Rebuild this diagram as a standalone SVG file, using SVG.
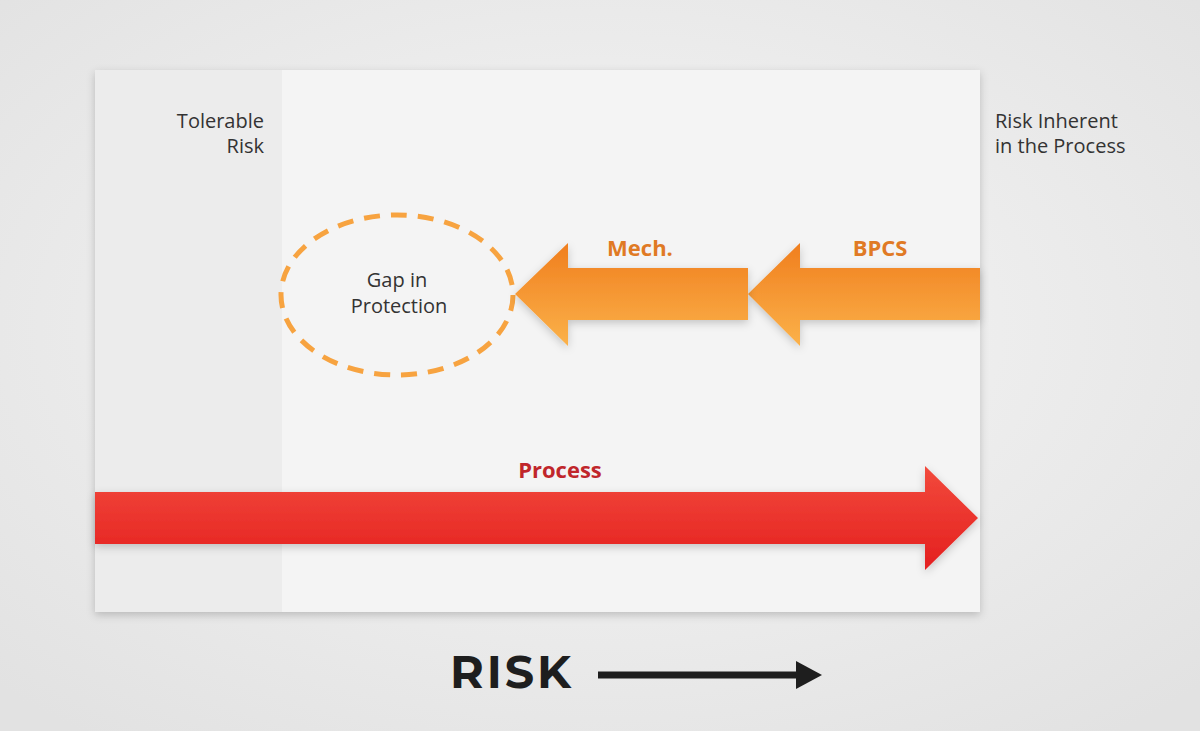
<svg xmlns="http://www.w3.org/2000/svg" width="1200" height="731" viewBox="0 0 1200 731">
<defs>
<radialGradient id="bg" cx="0.5" cy="0.45" r="0.7"><stop offset="0" stop-color="#f7f7f7"/><stop offset="1" stop-color="#e2e2e2"/></radialGradient>
<linearGradient id="og" x1="0" y1="0" x2="0" y2="1"><stop offset="0" stop-color="#f07e1e"/><stop offset="1" stop-color="#fbb24a"/></linearGradient>
<linearGradient id="rg" x1="0" y1="0" x2="0" y2="1"><stop offset="0" stop-color="#f24a3c"/><stop offset="1" stop-color="#e41f1f"/></linearGradient>
<filter id="sh" x="-10%" y="-20%" width="120%" height="140%"><feDropShadow dx="0" dy="3" stdDeviation="4" flood-opacity="0.2"/></filter>
<marker id="ah" viewBox="0 0 10 10" refX="9" refY="5" markerWidth="3" markerHeight="4" orient="auto" markerUnits="strokeWidth" preserveAspectRatio="none"><path d="M0,0 L10,5 L0,10 z" fill="#1e1e1e"/></marker>
</defs>
<style>
.t{font-family:"Open Sans","Liberation Sans",sans-serif;font-size:20px;fill:#333}
.b{font-family:"Open Sans","Liberation Sans",sans-serif;font-size:22px;font-weight:bold}
</style>
<rect width="1200" height="731" fill="url(#bg)"/>
<rect x="95" y="70" width="885" height="542" fill="#f4f4f4" filter="url(#sh)"/>
<rect x="95" y="70" width="187" height="542" fill="#ececec"/>
<g id="tolerable"><text class="t" x="264" y="128" text-anchor="end">Tolerable</text><text class="t" x="264" y="153" text-anchor="end">Risk</text></g>
<g id="inherent"><text class="t" x="995" y="128">Risk Inherent</text><text class="t" x="995" y="153">in the Process</text></g>
<g id="gap"><ellipse cx="397" cy="295" rx="116" ry="80" fill="none" stroke="#f7a340" stroke-width="5" stroke-dasharray="16 11"/>
<text class="t" x="397" y="287" text-anchor="middle">Gap in</text><text class="t" x="399" y="313" text-anchor="middle">Protection</text></g>
<g id="connectors">
<g id="bpcs"><path d="M980,268 L800,268 L800,243 L748,294 L800,346 L800,320 L980,320 Z" fill="url(#og)" filter="url(#sh)"/><text class="b" x="880" y="256" text-anchor="middle" fill="#e07a24">BPCS</text></g>
<g id="mech"><path d="M748,268 L568,268 L568,243 L515,294 L568,346 L568,320 L748,320 Z" fill="url(#og)" filter="url(#sh)"/><text class="b" x="640" y="256" text-anchor="middle" fill="#e07a24">Mech.</text></g>
<g id="process"><path d="M95,492 L925,492 L925,466 L978,518 L925,570 L925,544 L95,544 Z" fill="url(#rg)" filter="url(#sh)"/><text class="b" x="560" y="478" text-anchor="middle" fill="#c0262b">Process</text></g>
<line x1="598" y1="675" x2="800" y2="675" stroke="#1e1e1e" stroke-width="7"/>
<path d="M796,661 L822,675 L796,689 Z" fill="#1e1e1e"/>
</g>
<text x="450" y="688" font-family="Montserrat,'Open Sans','Liberation Sans',sans-serif" font-size="46" font-weight="bold" fill="#1e1e1e" textLength="121">RISK</text>
</svg>
